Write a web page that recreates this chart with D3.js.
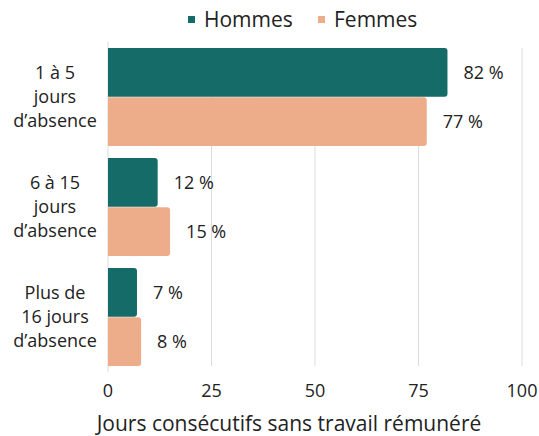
<!DOCTYPE html>
<html>
<head>
<meta charset="utf-8">
<script src="https://cdn.jsdelivr.net/npm/d3@7"></script>
<style>
  body { margin: 0; background: #fff; }
  svg text { font-family: "Open Sans", "Noto Sans", sans-serif; fill: #222; }
</style>
</head>
<body>
<svg id="chart" width="539" height="436"></svg>
<script>
// Data
const categories = ['1 à 5 jours d’absence', '6 à 15 jours d’absence', 'Plus de 16 jours d’absence'];
const categoryLines = [
  ['1 à 5', 'jours', 'd’absence'],
  ['6 à 15', 'jours', 'd’absence'],
  ['Plus de', '16 jours', 'd’absence']
];
const seriesNames = ['Hommes', 'Femmes'];
const hommes = [82, 12, 7];
const femmes = [77, 15, 8];
const xTicks = [0, 25, 50, 75, 100];
const xTitle = 'Jours consécutifs sans travail rémunéré';

const colors = { Hommes: '#156b67', Femmes: '#edad8a' };
const values = { Hommes: hommes, Femmes: femmes };

const WIDTH = 539;
const HEIGHT = 436;
const margin = { left: 108, right: 17, top: 42, bottom: 64 };

const svg = d3.select('#chart');

/*
 * Scales
 */
const scale = {};
scale.x = d3.scaleLinear()
  .domain([0, 100])
  .range([margin.left, WIDTH - margin.right]);

scale.y = d3.scaleBand()
  .domain(categories)
  .range([margin.top, HEIGHT - margin.bottom])
  .paddingInner(0.11)
  .paddingOuter(0.055);

scale.sub = d3.scaleBand()
  .domain(seriesNames)
  .range([0, scale.y.bandwidth()])
  .paddingInner(0.015);

const gridTop = scale.y(categories[0]);
const gridBottom = scale.y(categories[categories.length - 1]) + scale.y.bandwidth();

// grid lines
svg.append('g')
  .selectAll('line')
  .data(xTicks)
  .join('line')
  .attr('x1', d => scale.x(d))
  .attr('x2', d => scale.x(d))
  .attr('y1', d => d === 0 ? margin.top : gridTop)
  .attr('y2', d => d === 0 ? gridBottom + 6 : gridBottom)
  .attr('stroke', '#dcdcdc')
  .attr('stroke-width', 1);

// x tick labels
svg.append('g')
  .selectAll('text')
  .data(xTicks)
  .join('text')
  .attr('x', d => scale.x(d))
  .attr('y', 397)
  .attr('text-anchor', 'middle')
  .style('font-size', '18px')
  .text(d => d);

// x title
svg.append('text')
  .attr('x', 289)
  .attr('y', 431)
  .attr('text-anchor', 'middle')
  .style('font-size', '21px')
  .text(xTitle);

/**
 * Bar with rounded right corners
 */
function barPath(x0, x1, y0, h, r) {
  r = Math.min(r, (x1 - x0) / 2, h / 2);
  return `M${x0},${y0}H${x1 - r}Q${x1},${y0} ${x1},${y0 + r}` +
    `V${y0 + h - r}Q${x1},${y0 + h} ${x1 - r},${y0 + h}H${x0}Z`;
}

const groups = svg.append('g')
  .selectAll('g')
  .data(categories)
  .join('g')
  .attr('transform', c => `translate(0,${scale.y(c)})`);

groups.each(function(c, i) {
  const g = d3.select(this);
  seriesNames.forEach(s => {
    const v = values[s][i];
    const y0 = scale.sub(s);
    const h = scale.sub.bandwidth();
    g.append('path')
      .attr('d', barPath(scale.x(0), scale.x(v), y0, h, 3))
      .attr('fill', colors[s]);
    g.append('text')
      .attr('x', scale.x(v) + 16)
      .attr('y', y0 + h / 2)
      .attr('dy', '0.35em')
      .style('font-size', '18px')
      .text(`${v} %`);
  });

  // category label
  const lines = categoryLines[i];
  const mid = scale.y.bandwidth() / 2;
  g.append('text')
    .attr('text-anchor', 'middle')
    .style('font-size', '18px')
    .selectAll('tspan')
    .data(lines)
    .join('tspan')
    .attr('x', 55)
    .attr('y', (d, k) => mid + (k - (lines.length - 1) / 2) * 24)
    .attr('dy', '0.35em')
    .text(d => d);
});

// legend
const legendItems = [
  { name: 'Hommes', x: 188 },
  { name: 'Femmes', x: 318 }
];
const legend = svg.append('g')
  .selectAll('g')
  .data(legendItems)
  .join('g')
  .attr('transform', d => `translate(${d.x},0)`);

legend.append('rect')
  .attr('x', 0)
  .attr('y', 16)
  .attr('width', 7)
  .attr('height', 7)
  .attr('fill', d => colors[d.name]);

legend.append('text')
  .attr('x', 16)
  .attr('y', 27)
  .style('font-size', '21px')
  .text(d => d.name);
</script>
</body>
</html>
